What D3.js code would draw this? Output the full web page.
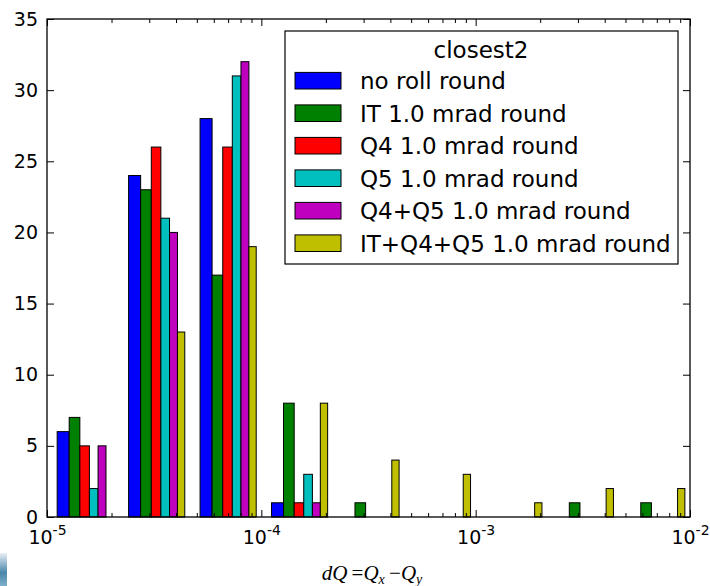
<!DOCTYPE html>
<html>
<head>
<meta charset="utf-8">
<script src="https://cdn.jsdelivr.net/npm/d3@7"></script>
<style>
  body { margin: 0; background: #fff; }
  svg { display: block; }
</style>
</head>
<body>
<svg id="chart"></svg>
<script>
// log bins, 3 per decade
const binEdges = [1e-5, 2.154e-5, 4.642e-5, 1e-4, 2.154e-4, 4.642e-4, 1e-3, 2.154e-3, 4.642e-3, 1e-2];

const seriesNames = [
  "no roll round",
  "IT 1.0 mrad round",
  "Q4 1.0 mrad round",
  "Q5 1.0 mrad round",
  "Q4+Q5 1.0 mrad round",
  "IT+Q4+Q5 1.0 mrad round"
];

const noRoll = [6, 24, 28, 1, 0, 0, 0, 0, 0];
const itRoll = [7, 23, 17, 8, 1, 0, 0, 1, 1];
const q4Roll = [5, 26, 26, 1, 0, 0, 0, 0, 0];
const q5Roll = [2, 21, 31, 3, 0, 0, 0, 0, 0];
const q4q5Roll = [5, 20, 32, 1, 0, 0, 0, 0, 0];
const allRoll = [0, 13, 19, 8, 4, 3, 1, 2, 2];

const yTicks = [0, 5, 10, 15, 20, 25, 30, 35];
const xTicks = [1e-5, 1e-4, 1e-3, 1e-2];

const colors = ["#0000ff", "#008000", "#ff0000", "#00bfbf", "#bf00bf", "#bfbf00"];

const width = 710;
const height = 586;
const margin = { left: 47, right: 20, top: 19, bottom: 69 };

const svg = d3.select("#chart").attr("width", width).attr("height", height);

const x = d3.scaleLog()
  .domain([1e-5, 1e-2])
  .range([margin.left, width - margin.right]);

const y = d3.scaleLinear()
  .domain([0, 35])
  .range([height - margin.bottom, margin.top]);

const counts = [noRoll, itRoll, q4Roll, q5Roll, q4q5Roll, allRoll];
const n = counts.length;

// side-by-side bars: 80% of each bin, split evenly (in linear units)
const bars = [];
counts.forEach((vals, s) => {
  vals.forEach((v, b) => {
    const lo = binEdges[b], tw = binEdges[b + 1] - lo;
    const x0 = lo + tw * (0.1 + 0.8 * s / n);
    const x1 = x0 + tw * 0.8 / n;
    if (v > 0) bars.push({ s, x0, x1, v });
  });
});

svg.append("g")
  .selectAll("rect")
  .data(bars)
  .join("rect")
  .attr("x", d => x(d.x0))
  .attr("width", d => x(d.x1) - x(d.x0))
  .attr("y", d => y(d.v))
  .attr("height", d => y(0) - y(d.v))
  .attr("fill", d => colors[d.s])
  .attr("stroke", "#000")
  .attr("stroke-width", 1);

// minor ticks for log axis
const minor = x.ticks().filter(t => !xTicks.some(m => Math.abs(m - t) / t < 1e-6));

const axisStyle = g => {
  g.select(".domain").remove();
  g.selectAll(".tick line").attr("stroke", "#000");
};

// bottom axis
const gx = svg.append("g")
  .attr("transform", `translate(0,${y(0)})`)
  .call(d3.axisBottom(x).tickValues(xTicks).tickSizeInner(-7).tickSizeOuter(0).tickFormat(""))
  .call(axisStyle);

svg.append("g")
  .attr("transform", `translate(0,${y(0)})`)
  .call(d3.axisBottom(x).tickValues(minor).tickSizeInner(-4).tickSizeOuter(0).tickFormat(""))
  .call(axisStyle);

// top axis
svg.append("g")
  .attr("transform", `translate(0,${margin.top})`)
  .call(d3.axisTop(x).tickValues(xTicks).tickSizeInner(-7).tickSizeOuter(0).tickFormat(""))
  .call(axisStyle);

svg.append("g")
  .attr("transform", `translate(0,${margin.top})`)
  .call(d3.axisTop(x).tickValues(minor).tickSizeInner(-4).tickSizeOuter(0).tickFormat(""))
  .call(axisStyle);

// x tick labels 10^n
gx.selectAll(".tick").each(function (d) {
  const t = d3.select(this).append("text")
    .attr("y", 27)
    .attr("fill", "#000")
    .attr("text-anchor", "middle")
    .style("font-family", "DejaVu Sans")
    .style("font-size", "19px");
  t.append("tspan").text("10");
  t.append("tspan")
    .attr("dy", -9)
    .style("font-size", "14px")
    .text(String(Math.round(Math.log10(d))));
});

// left axis
svg.append("g")
  .attr("transform", `translate(${margin.left},0)`)
  .call(d3.axisLeft(y).tickValues(yTicks).tickSizeInner(-7).tickSizeOuter(0).tickPadding(9))
  .call(axisStyle)
  .call(g => g.selectAll("text")
    .attr("fill", "#000")
    .style("font-family", "DejaVu Sans")
    .style("font-size", "19px"));

// right axis
svg.append("g")
  .attr("transform", `translate(${width - margin.right},0)`)
  .call(d3.axisRight(y).tickValues(yTicks).tickSizeInner(-7).tickSizeOuter(0).tickFormat(""))
  .call(axisStyle);

// frame
svg.append("rect")
  .attr("x", margin.left)
  .attr("y", margin.top)
  .attr("width", width - margin.right - margin.left)
  .attr("height", y(0) - margin.top)
  .attr("fill", "none")
  .attr("stroke", "#000")
  .attr("stroke-width", 1.3);

// legend
const legend = svg.append("g").attr("transform", "translate(285,31)");
legend.append("rect")
  .attr("width", 393)
  .attr("height", 233)
  .attr("fill", "#fff")
  .attr("stroke", "#000")
  .attr("stroke-width", 1.2);

legend.append("text")
  .attr("x", 196)
  .attr("y", 27)
  .attr("text-anchor", "middle")
  .style("font-family", "DejaVu Sans")
  .style("font-size", "23px")
  .text("closest2");

const item = legend.selectAll("g.item")
  .data(seriesNames)
  .join("g")
  .attr("class", "item")
  .attr("transform", (d, i) => `translate(0,${49.7 + i * 32.5})`);

item.append("rect")
  .attr("x", 10)
  .attr("y", -8.3)
  .attr("width", 46)
  .attr("height", 16.6)
  .attr("fill", (d, i) => colors[i])
  .attr("stroke", "#000");

item.append("text")
  .attr("x", 75)
  .attr("y", 8.3)
  .style("font-family", "DejaVu Sans")
  .style("font-size", "23px")
  .text(d => d);

// x label (math)
const xl = svg.append("text")
  .attr("x", 372)
  .attr("y", 580)
  .attr("text-anchor", "middle")
  .style("font-family", "Liberation Serif")
  .style("font-size", "21px");
xl.append("tspan").style("font-style", "italic").text("dQ");
xl.append("tspan").text("\u2009=");
xl.append("tspan").style("font-style", "italic").text("Q");
xl.append("tspan").style("font-style", "italic").style("font-size", "14px").attr("dy", 4).text("x");
xl.append("tspan").attr("dy", -4).text("\u2009\u2212");
xl.append("tspan").style("font-style", "italic").text("Q");
xl.append("tspan").style("font-style", "italic").style("font-size", "14px").attr("dy", 4).text("y");

// edge artifact at bottom-left of the screenshot
const grad = svg.append("defs").append("linearGradient")
  .attr("id", "blob").attr("x1", 0).attr("y1", 0).attr("x2", 0).attr("y2", 1);
grad.append("stop").attr("offset", 0).attr("stop-color", "#e8f0f6");
grad.append("stop").attr("offset", 0.6).attr("stop-color", "#4a86aa");
grad.append("stop").attr("offset", 1).attr("stop-color", "#7fb0cc");
svg.append("rect")
  .attr("x", 0).attr("y", 553).attr("width", 7).attr("height", 33)
  .attr("fill", "url(#blob)");
</script>
</body>
</html>
